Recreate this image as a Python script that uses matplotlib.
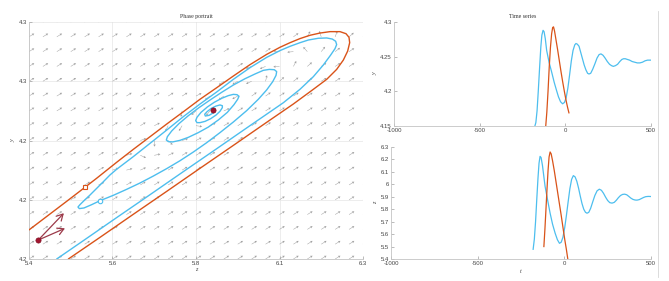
import numpy as np
import matplotlib
matplotlib.use('Agg')
import matplotlib.pyplot as plt
from matplotlib.lines import Line2D

# ---------------- data ----------------
phase_blue_z = [5.4746, 5.5464, 5.6362, 5.7261, 5.8159, 5.9057, 5.9955, 6.0853, 6.1302, 6.1662,
                6.1931, 6.2129, 6.2245, 6.2290, 6.2263, 6.2174, 6.2021, 6.1796, 6.1527, 6.1302,
                6.1033, 6.0763, 6.0404, 5.9955, 5.9506, 5.9057, 5.8608, 5.8159, 5.7710, 5.7261,
                5.6811, 5.6362, 5.6183, 5.6003, 5.5823, 5.5644, 5.5482, 5.5374, 5.5320, 5.5356,
                5.5482, 5.5689, 5.5913, 5.6272, 5.6632, 5.6991, 5.7350, 5.7710, 5.8069, 5.8428,
                5.8787, 5.9147, 5.9506, 5.9865, 6.0180, 6.0404, 6.0566, 6.0656, 6.0674, 6.0611,
                6.0476, 6.0314, 6.0090, 5.9820, 5.9506, 5.9192, 5.8877, 5.8581, 5.8293, 5.8042,
                5.7844, 5.7728, 5.7701, 5.7754, 5.7871, 5.8069, 5.8293, 5.8563, 5.8832, 5.9102,
                5.9344, 5.9524, 5.9623, 5.9659, 5.9605, 5.9506, 5.9371, 5.9192, 5.8994, 5.8805,
                5.8635, 5.8527, 5.8491, 5.8527, 5.8608, 5.8743, 5.8895, 5.9039, 5.9147, 5.9210,
                5.9210, 5.9147, 5.9039, 5.8913, 5.8796, 5.8734, 5.8752, 5.8850, 5.8958, 5.9021,
                5.9021]
phase_blue_y = [4.1500, 4.1616, 4.1762, 4.1907, 4.2053, 4.2198, 4.2344, 4.2489, 4.2574, 4.2654,
                4.2728, 4.2791, 4.2831, 4.2857, 4.2878, 4.2892, 4.2899, 4.2897, 4.2886, 4.2869,
                4.2846, 4.2819, 4.2776, 4.2711, 4.2637, 4.2557, 4.2481, 4.2401, 4.2316, 4.2232,
                4.2148, 4.2068, 4.2032, 4.1989, 4.1947, 4.1905, 4.1869, 4.1844, 4.1829, 4.1819,
                4.1823, 4.1844, 4.1869, 4.1903, 4.1941, 4.1981, 4.2025, 4.2072, 4.2122, 4.2177,
                4.2236, 4.2300, 4.2367, 4.2439, 4.2511, 4.2570, 4.2622, 4.2662, 4.2686, 4.2698,
                4.2700, 4.2694, 4.2671, 4.2641, 4.2601, 4.2555, 4.2506, 4.2458, 4.2407, 4.2357,
                4.2310, 4.2274, 4.2253, 4.2243, 4.2241, 4.2251, 4.2270, 4.2300, 4.2335, 4.2380,
                4.2428, 4.2477, 4.2511, 4.2530, 4.2540, 4.2542, 4.2534, 4.2517, 4.2492, 4.2462,
                4.2428, 4.2397, 4.2376, 4.2363, 4.2363, 4.2371, 4.2388, 4.2411, 4.2435, 4.2458,
                4.2470, 4.2475, 4.2468, 4.2454, 4.2432, 4.2416, 4.2405, 4.2409, 4.2424, 4.2441,
                4.2449]

phase_orange_z = [5.5060, 5.5913, 5.6811, 5.7710, 5.8608, 5.9506, 6.0404, 6.1123, 6.1662, 6.2021,
                  6.2290, 6.2470, 6.2587, 6.2641, 6.2623, 6.2542, 6.2380, 6.2111, 6.1841, 6.1572,
                  6.1302, 6.1033, 6.0763, 6.0404, 5.9955, 5.9506, 5.9057, 5.8608, 5.8159, 5.7710,
                  5.7261, 5.6811, 5.6362, 5.5823, 5.5509, 5.5015, 5.4566, 5.4000]
phase_orange_y = [4.1500, 4.1637, 4.1783, 4.1928, 4.2074, 4.2219, 4.2365, 4.2481, 4.2574, 4.2637,
                  4.2700, 4.2759, 4.2816, 4.2869, 4.2903, 4.2926, 4.2939, 4.2939, 4.2930, 4.2916,
                  4.2895, 4.2869, 4.2840, 4.2795, 4.2730, 4.2658, 4.2584, 4.2511, 4.2432, 4.2354,
                  4.2274, 4.2194, 4.2112, 4.2011, 4.1954, 4.1865, 4.1785, 4.1684]

ts_blue_t_y = [-180, -172, -165, -158, -150, -143, -137, -130, -124, -117, -109, -95, -80, -65, -51,
               -40, -28, -16, -5, 5, 15, 25, 35, 45, 55, 62, 70, 80, 90, 100, 110, 120, 130, 138,
               148, 160, 173, 185, 197, 208, 220, 232, 245, 258, 270, 280, 292, 305, 318, 330, 340,
               350, 362, 375, 390, 405, 420, 435, 450, 465, 480, 490, 500]
ts_blue_y = [4.148, 4.155, 4.172, 4.200, 4.235, 4.264, 4.281, 4.288, 4.286, 4.276, 4.259, 4.242,
             4.228, 4.213, 4.201, 4.192, 4.185, 4.182, 4.184, 4.191, 4.205, 4.224, 4.244, 4.259,
             4.267, 4.269, 4.268, 4.265, 4.256, 4.247, 4.238, 4.231, 4.226, 4.225, 4.226, 4.232,
             4.240, 4.248, 4.253, 4.254, 4.252, 4.248, 4.243, 4.239, 4.237, 4.236, 4.237, 4.239,
             4.243, 4.246, 4.247, 4.247, 4.246, 4.245, 4.243, 4.242, 4.241, 4.241, 4.242, 4.244,
             4.245, 4.245, 4.245]

ts_blue_t_z = [-180, -173, -166, -159, -152, -146, -140, -134, -126, -118, -111, -96, -82, -68, -53,
               -40, -28, -18, -8, 2, 12, 22, 32, 42, 52, 62, 72, 82, 92, 102, 112, 122, 131, 141,
               152, 164, 176, 189, 202, 214, 226, 238, 250, 262, 275, 288, 300, 312, 324, 336, 348,
               360, 372, 384, 396, 408, 419, 432, 445, 458, 470, 485, 500]
ts_blue_z = [5.478, 5.560, 5.700, 5.880, 6.050, 6.170, 6.225, 6.215, 6.150, 6.060, 5.983, 5.870,
             5.768, 5.680, 5.607, 5.555, 5.526, 5.535, 5.575, 5.650, 5.750, 5.860, 5.965, 6.040,
             6.070, 6.060, 6.025, 5.970, 5.905, 5.845, 5.800, 5.775, 5.768, 5.775, 5.808, 5.860,
             5.910, 5.948, 5.961, 5.952, 5.928, 5.897, 5.870, 5.853, 5.849, 5.855, 5.872, 5.893,
             5.910, 5.919, 5.921, 5.916, 5.903, 5.889, 5.879, 5.874, 5.873, 5.877, 5.886, 5.895,
             5.901, 5.903, 5.902]

ts_orange_t_y = [-115, -108, -101, -94, -87, -80, -74, -69, -63, -55, -45, -35, -25, -15, -5, 5, 13, 21]
ts_orange_y = [4.148, 4.170, 4.200, 4.235, 4.263, 4.283, 4.292, 4.293, 4.287, 4.275, 4.260, 4.244,
               4.228, 4.213, 4.199, 4.186, 4.177, 4.169]

ts_orange_t_z = [-118, -112, -106, -100, -94, -88, -82, -76, -68, -58, -48, -38, -28, -18, -8, 2, 12, 20]
ts_orange_z = [5.500, 5.640, 5.800, 5.960, 6.110, 6.220, 6.260, 6.245, 6.190, 6.110, 6.020, 5.930,
               5.840, 5.750, 5.655, 5.560, 5.475, 5.400]

fixed_point_z, fixed_point_y = 5.897, 4.244
start_point_z, start_point_y = 5.425, 4.162
eig_tip_z = [5.494, 5.497]
eig_tip_y = [4.179, 4.1694]
orange_mark_z, orange_mark_y = 5.5509, 4.1954
blue_mark_z, blue_mark_y = 5.5913, 4.1869

phase_zlim = (5.4, 6.3)
phase_ylim = (4.15, 4.3)
phase_xticklabels = ["5.4", "5.6", "5.8", "6.1", "6.3"]
phase_yticklabels = ["4.2", "4.2", "4.2", "4.3", "4.3"]

ts_tlim = (-1000, 500)
ts_tticks = [-1000, -500, 0, 500]
ts_tticklabels = ["-1000", "-500", "0", "500"]
ts_yticks = [4.15, 4.2, 4.25, 4.3]
ts_yticklabels = ["4.15", "4.2", "4.25", "4.3"]
ts_zticks = [5.4, 5.5, 5.6, 5.7, 5.8, 5.9, 6.0, 6.1, 6.2, 6.3]
ts_zticklabels = ["5.4", "5.5", "5.6", "5.7", "5.8", "5.9", "6", "6.1", "6.2", "6.3"]

# direction field description (screen-space angles)
field_nz, field_ny = 25, 17
field_base_angle = 32.0
vortex_z, vortex_y = 5.96, 4.252
vortex_angle = 32.0

# ---------------- style ----------------
BLUE = '#4DBEEE'
ORANGE = '#D95319'
DARKRED = '#A2142F'
SPINE = '#c4c4c4'
TXT = '#454545'
TICKFONT = 'Liberation Sans'
SERIF = 'Liberation Serif'

W, H = 669, 281
fig = plt.figure(figsize=(W / 100, H / 100), dpi=100)

def style_axes(ax, fs=4.3):
    for s in ['top', 'right']:
        ax.spines[s].set_visible(False)
    for s in ['left', 'bottom']:
        ax.spines[s].set_color(SPINE)
        ax.spines[s].set_linewidth(0.6)
    ax.tick_params(direction='in', length=2, width=0.5, color='#a0a0a0',
                   labelsize=fs, labelcolor=TXT, pad=1.5)
    for lab in ax.get_xticklabels() + ax.get_yticklabels():
        lab.set_fontfamily(TICKFONT)

# ---------- phase portrait ----------
axw, axh = 334, 237
ax1 = fig.add_axes([29 / W, 22 / H, axw / W, axh / H])
ax1.set_xlim(*phase_zlim)
ax1.set_ylim(*phase_ylim)
xt = np.linspace(phase_zlim[0], phase_zlim[1], 5)
yt = np.linspace(phase_ylim[0], phase_ylim[1], 5)
ax1.set_xticks(xt)
ax1.set_xticklabels(phase_xticklabels)
ax1.set_yticks(yt)
ax1.set_yticklabels(phase_yticklabels)
ax1.grid(True, color='#e6e6e6', linewidth=0.5)
ax1.set_axisbelow(True)
style_axes(ax1)

# quiver field
gz = np.linspace(phase_zlim[0], phase_zlim[1], field_nz)
gy = np.linspace(phase_ylim[0], phase_ylim[1], field_ny)
GZ, GY = np.meshgrid(gz, gy)
px = (GZ - phase_zlim[0]) / (phase_zlim[1] - phase_zlim[0]) * axw
py = (GY - phase_ylim[0]) / (phase_ylim[1] - phase_ylim[0]) * axh
cx = (vortex_z - phase_zlim[0]) / (phase_zlim[1] - phase_zlim[0]) * axw
cy = (vortex_y - phase_ylim[0]) / (phase_ylim[1] - phase_ylim[0]) * axh
th = np.deg2rad(vortex_angle)
dx, dy = px - cx, py - cy
s = dx * np.cos(th) + dy * np.sin(th)
n = -dx * np.sin(th) + dy * np.cos(th)
a, b = 125.0, 24.0
ts_ = -n * (a / b)
tn_ = s * (b / a)
rx = ts_ * np.cos(th) - tn_ * np.sin(th)
ry = ts_ * np.sin(th) + tn_ * np.cos(th)
rn = np.hypot(rx, ry) + 1e-9
rx, ry = rx / rn, ry / rn
w = np.exp(-((s / a) ** 2 + (n / b) ** 2) ** 1.5)
bth = np.deg2rad(field_base_angle)
ux = (1 - w) * np.cos(bth) + w * rx
uy = (1 - w) * np.sin(bth) + w * ry
un = np.hypot(ux, uy) + 1e-9
ux, uy = ux / un, uy / un
ax1.quiver(GZ, GY, ux, uy, angles='uv', scale_units='inches', scale=1 / 0.062,
           units='dots', width=0.5, headwidth=5, headlength=4.5, headaxislength=4,
           color='#a2a2a2', zorder=1, clip_on=True)

ax1.plot(phase_orange_z, phase_orange_y, color=ORANGE, lw=1.0, zorder=3, solid_capstyle='round')
ax1.plot(phase_blue_z, phase_blue_y, color=BLUE, lw=1.0, zorder=3, solid_capstyle='round')
ax1.plot([orange_mark_z], [orange_mark_y], 's', ms=3.2, mfc='white', mec=ORANGE, mew=0.8, zorder=5)
ax1.plot([blue_mark_z], [blue_mark_y], 'o', ms=3.2, mfc='white', mec=BLUE, mew=0.8, zorder=5)
ax1.plot([fixed_point_z], [fixed_point_y], 'o', ms=3.8, color=DARKRED, mec='#7a1020', mew=0.4, zorder=6)
ax1.plot([start_point_z], [start_point_y], 'o', ms=3.8, color=DARKRED, mec='#7a1020', mew=0.4, zorder=6)
for tz, ty in zip(eig_tip_z, eig_tip_y):
    ax1.annotate('', xy=(tz, ty), xytext=(start_point_z, start_point_y),
                 arrowprops=dict(arrowstyle='->,head_length=0.5,head_width=0.28',
                                 color='#9c3a4a', lw=0.9, shrinkA=0, shrinkB=0,
                                 mutation_scale=9), zorder=5)
ax1.set_title('Phase portrait', fontsize=4.2, family=SERIF, color='#303030', pad=3)
ax1.set_xlabel('z', fontsize=4.5, family=SERIF, style='italic', color=TXT, labelpad=1)
ax1.set_ylabel('y', fontsize=4.5, family=SERIF, style='italic', color=TXT, labelpad=2)

# ---------- time series: y ----------
ax2 = fig.add_axes([394 / W, (281 - 126) / H, 257 / W, 104 / H])
ax2.plot(ts_blue_t_y, ts_blue_y, color=BLUE, lw=0.9)
ax2.plot(ts_orange_t_y, ts_orange_y, color=ORANGE, lw=0.9)
ax2.set_xlim(*ts_tlim)
ax2.set_ylim(ts_yticks[0], ts_yticks[-1])
ax2.set_xticks(ts_tticks)
ax2.set_xticklabels(ts_tticklabels)
ax2.set_yticks(ts_yticks)
ax2.set_yticklabels(ts_yticklabels)
style_axes(ax2)
ax2.set_title('Time series', fontsize=4.2, family=SERIF, color='#303030', pad=3)
ax2.set_ylabel('y', fontsize=4.5, family=SERIF, style='italic', color=TXT, labelpad=2)

# ---------- time series: z ----------
ax3 = fig.add_axes([391 / W, 22 / H, 260 / W, 112 / H])
ax3.plot(ts_blue_t_z, ts_blue_z, color=BLUE, lw=0.9)
ax3.plot(ts_orange_t_z, ts_orange_z, color=ORANGE, lw=0.9)
ax3.set_xlim(*ts_tlim)
ax3.set_ylim(ts_zticks[0], ts_zticks[-1])
ax3.set_xticks(ts_tticks)
ax3.set_xticklabels(ts_tticklabels)
ax3.set_yticks(ts_zticks)
ax3.set_yticklabels(ts_zticklabels)
style_axes(ax3)
ax3.set_xlabel('t', fontsize=4.5, family=SERIF, style='italic', color=TXT, labelpad=2)
ax3.set_ylabel('z', fontsize=4.5, family=SERIF, style='italic', color=TXT, labelpad=2)

# faint separator line on the right
fig.add_artist(Line2D([658 / W, 658 / W], [(281 - 277) / H, (281 - 11) / H],
                      transform=fig.transFigure, color='#d6d6d6', lw=0.6))

fig.savefig('out.png', dpi=100, facecolor='white')
